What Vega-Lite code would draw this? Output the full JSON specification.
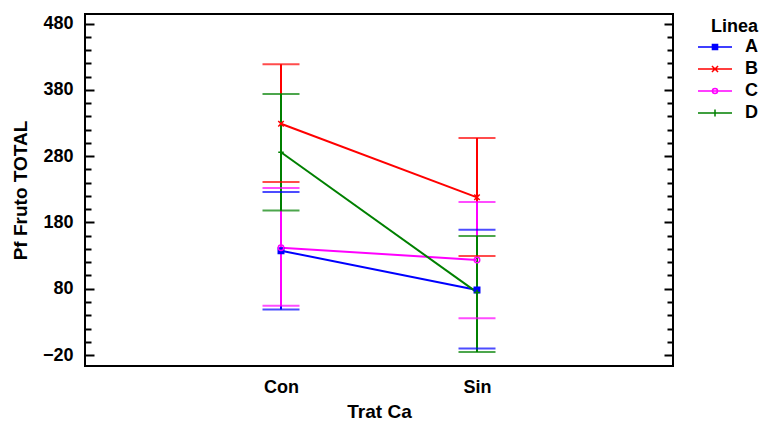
{
  "$schema": "https://vega.github.io/schema/vega-lite/v6.json",
  "width": 588,
  "height": 352,
  "padding": {"left": 11, "top": 14, "right": 5, "bottom": 5},
  "config": {
    "view": {"stroke": "#000", "strokeWidth": 2},
    "font": "Liberation Sans",
    "axis": {"labelFont": "Liberation Sans", "titleFont": "Liberation Sans", "labelFontWeight": "bold", "titleFontWeight": "bold", "labelColor": "#000", "titleColor": "#000", "grid": false, "domain": false, "tickColor": "#000"},
    "legend": {"orient": "right", "offset": 19, "padding": 4, "titleFont": "Liberation Sans", "titleFontSize": 18, "titleFontWeight": "bold", "titleColor": "#000", "labelFont": "Liberation Sans", "labelFontSize": 18, "labelFontWeight": "bold", "labelColor": "#000", "labelOffset": 12, "rowPadding": 4, "clipHeight": 18, "titleAnchor": "end", "titlePadding": 2, "symbolStrokeWidth": 1.5, "symbolSize": 1156}
  },
  "data": {"values": [
    {"Linea": "A", "Trat": "Con", "mean": 137.5, "lo": 48.5, "hi": 226},
    {"Linea": "A", "Trat": "Sin", "mean": 78, "lo": -10, "hi": 169},
    {"Linea": "B", "Trat": "Con", "mean": 329, "lo": 241, "hi": 419},
    {"Linea": "B", "Trat": "Sin", "mean": 218, "lo": 129.5, "hi": 307.5},
    {"Linea": "C", "Trat": "Con", "mean": 142, "lo": 54.5, "hi": 232},
    {"Linea": "C", "Trat": "Sin", "mean": 123.5, "lo": 35.5, "hi": 211},
    {"Linea": "D", "Trat": "Con", "mean": 286, "lo": 198, "hi": 374},
    {"Linea": "D", "Trat": "Sin", "mean": 74.5, "lo": -15.5, "hi": 159.5}
  ]},
  "encoding": {
    "x": {"field": "Trat", "type": "nominal", "scale": {"type": "point", "padding": 1.1},
      "axis": {"title": "Trat Ca", "labelAngle": 0, "ticks": false, "domain": false, "labelPadding": 12, "titlePadding": 6, "labelFontSize": 18, "titleFontSize": 19}}
  },
  "layer": [
    {
      "mark": {"type": "rule", "strokeWidth": 2},
      "encoding": {
        "y": {"field": "lo", "type": "quantitative", "scale": {"domain": [-36.6, 494.7], "nice": false, "zero": false},
          "axis": {"orient": "left", "title": "Pf Fruto TOTAL", "values": [-20, 80, 180, 280, 380, 480], "ticks": false, "labelPadding": 12, "titlePadding": 12, "labelFontSize": 18, "titleFontSize": 19}},
        "y2": {"field": "hi"},
        "color": {"field": "Linea", "type": "nominal", "scale": {"domain": ["A", "B", "C", "D"], "range": ["#0000ff", "#ff0000", "#ff00ff", "#008000"]}, "legend": null}
      }
    },
    {
      "transform": [{"fold": ["lo", "hi"], "as": ["end", "val"]}],
      "mark": {"type": "tick", "orient": "horizontal", "size": 37, "thickness": 2},
      "encoding": {
        "y": {"field": "val", "type": "quantitative", "scale": {"domain": [-36.6, 494.7], "nice": false, "zero": false},
          "axis": {"orient": "left", "title": null, "labels": false, "values": [-20, 80, 180, 280, 380, 480], "tickSize": -9, "tickWidth": 2}},
        "color": {"field": "Linea", "type": "nominal", "legend": null}
      }
    },
    {
      "mark": {"type": "line", "strokeWidth": 2},
      "encoding": {
        "y": {"field": "mean", "type": "quantitative", "scale": {"domain": [-36.6, 494.7], "nice": false, "zero": false},
          "axis": {"orient": "right", "title": null, "labels": false, "values": [-20, 80, 180, 280, 380, 480], "tickSize": -9, "tickWidth": 2}},
        "color": {"field": "Linea", "type": "nominal", "legend": null}
      }
    },
    {
      "mark": {"type": "point", "filled": true, "strokeWidth": 1.5, "size": 30, "opacity": 1},
      "encoding": {
        "y": {"field": "mean", "type": "quantitative", "scale": {"domain": [-36.6, 494.7], "nice": false, "zero": false},
          "axis": {"orient": "left", "title": null, "labels": false, "values": [0, 20, 40, 60, 100, 120, 140, 160, 200, 220, 240, 260, 300, 320, 340, 360, 400, 420, 440, 460], "tickSize": -6, "tickWidth": 2}},
        "stroke": {"field": "Linea", "type": "nominal", "scale": {"domain": ["A", "B", "C", "D"], "range": ["#0000ff", "#ff0000", "#ff00ff", "#008000"]}, "legend": null},
        "fill": {"field": "Linea", "type": "nominal", "scale": {"domain": ["A", "B", "C", "D"], "range": ["#0000ff", "transparent", "transparent", "transparent"]}, "legend": null},
        "shape": {"field": "Linea", "type": "nominal", "scale": {"domain": ["A", "B", "C", "D"], "range": ["square", "M-1,-1L1,1M-1,1L1,-1", "circle", "M0,-1V1M-1,0H1"]}, "legend": null}
      }
    },
    {
      "mark": {"type": "point", "filled": true, "opacity": 0, "strokeWidth": 1.5,
        "stroke": {"expr": "scale('color', datum.value)"},
        "fill": {"expr": "datum.value === 'C' ? '#ffffff' : scale('color', datum.value)"}},
      "encoding": {
        "y": {"field": "mean", "type": "quantitative", "scale": {"domain": [-36.6, 494.7], "nice": false, "zero": false},
          "axis": {"orient": "right", "title": null, "labels": false, "values": [0, 20, 40, 60, 100, 120, 140, 160, 200, 220, 240, 260, 300, 320, 340, 360, 400, 420, 440, 460], "tickSize": -6, "tickWidth": 2}},
        "shape": {"field": "Linea", "type": "nominal", "title": "Linea",
          "scale": {"domain": ["A", "B", "C", "D"], "range": [
            "M-1,0H1M-0.15,-0.15H0.15V0.15H-0.15Z",
            "M-1,0H1M-0.18,-0.18L0.18,0.18M-0.18,0.18L0.18,-0.18",
            "M-1,0H1M0.15,0A0.15,0.15,0,1,1,-0.15,0A0.15,0.15,0,1,1,0.15,0",
            "M-1,0H1M0,-0.2V0.2"]}
        }
      }
    }
  ],
  "resolve": {"scale": {"shape": "independent"}, "axis": {"y": "independent"}}
}
